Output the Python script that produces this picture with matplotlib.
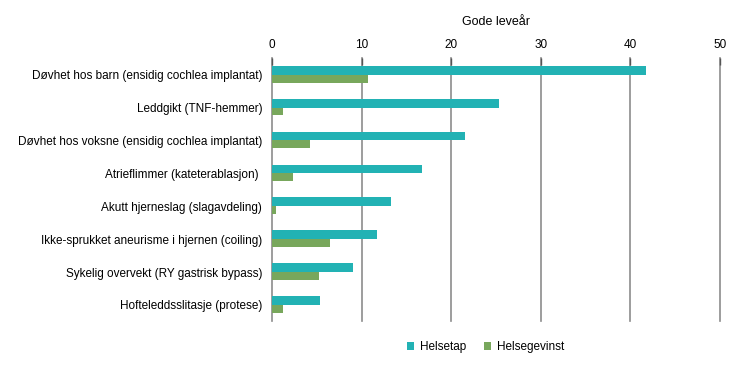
import matplotlib
matplotlib.use("Agg")
import matplotlib.pyplot as plt
import numpy as np

plt.rcParams['font.family'] = ['Liberation Sans', 'DejaVu Sans']

categories = [
    "Døvhet hos barn (ensidig cochlea implantat)",
    "Leddgikt (TNF-hemmer)",
    "Døvhet hos voksne (ensidig cochlea implantat)",
    "Atrieflimmer (kateterablasjon) ",
    "Akutt hjerneslag (slagavdeling)",
    "Ikke-sprukket aneurisme i hjernen (coiling)",
    "Sykelig overvekt (RY gastrisk bypass)",
    "Hofteleddsslitasje (protese)",
]
helsetap = [41.8, 25.4, 21.6, 16.7, 13.3, 11.7, 9.1, 5.4]
helsegevinst = [10.7, 1.2, 4.2, 2.3, 0.5, 6.5, 5.2, 1.2]
xticks = [0, 10, 20, 30, 40, 50]

teal = "#22b2b4"
green = "#78a75c"

fig = plt.figure(figsize=(7.3, 3.71), dpi=100)
ax = fig.add_axes([0.3726, 0.1336, 0.6134, 0.7094])

y = np.arange(len(categories))
ax.barh(y - 0.135, helsetap, height=0.27, color=teal, label="Helsetap", zorder=3)
ax.barh(y + 0.12, helsegevinst, height=0.24, color=green, label="Helsegevinst", zorder=3)

ax.set_xlim(0, 50)
ax.set_ylim(len(categories) - 0.5, -0.5)
ax.set_yticks(y)
ax.set_yticklabels(categories, fontsize=8.5)
ax.tick_params(axis='y', length=0, pad=7)

ax.xaxis.tick_top()
ax.xaxis.set_label_position('top')
ax.set_xticks(xticks)
ax.tick_params(axis='x', direction='in', length=5, width=1, color="#555555",
               labelsize=8.5, pad=5.5)
ax.set_xlabel("Gode leveår", fontsize=9, labelpad=10)
ax.grid(axis='x', color="#8c8c8c", linewidth=1.2, zorder=0)
for gl in ax.get_xgridlines():
    gl.set_clip_on(False)

for s in ax.spines.values():
    s.set_visible(False)

ax.legend(loc='upper center', bbox_to_anchor=(0.477, -0.035), ncol=2, frameon=False,
          fontsize=8.5, handlelength=0.6, handleheight=0.6, handletextpad=0.5,
          columnspacing=1.5)

fig.savefig("out.png", dpi=100)
